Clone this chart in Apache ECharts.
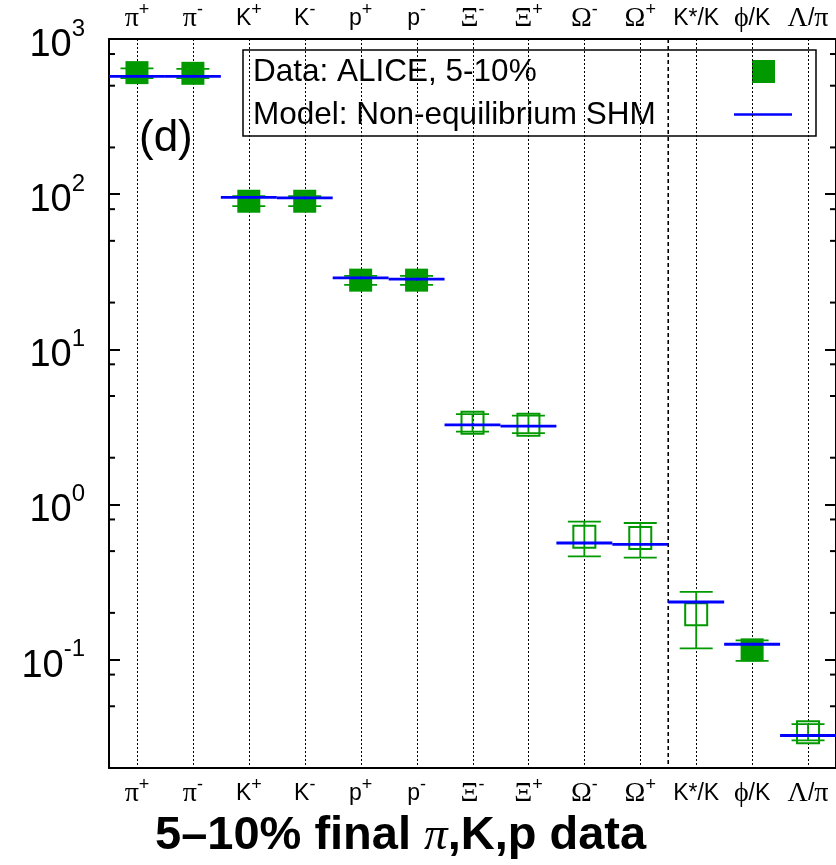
<!DOCTYPE html>
<html>
<head>
<meta charset="utf-8">
<script src="https://cdn.jsdelivr.net/npm/echarts@6/dist/echarts.min.js"></script>
<style>
  html, body { margin: 0; padding: 0; background: #fff; }
  #chart { width: 836px; height: 865px; }
</style>
</head>
<body>
<div id="chart"></div>
<script>
// Particle species / ratios along the x axis
const categories = ['π+', 'π-', 'K+', 'K-', 'p+', 'p-', 'Ξ-', 'Ξ+', 'Ω-', 'Ω+', 'K*/K', 'ϕ/K', 'Λ/π'];
// Rich-text markup for each tick label (Greek letters in serif, charges as superscripts)
const categoryMarkup = [
  '{g|π}{s|+}', '{g|π}{s|-}', '{n|K}{s|+}', '{n|K}{s|-}', '{n|p}{s|+}', '{n|p}{s|-}',
  '{g|Ξ}{s|-}', '{g|Ξ}{s|+}', '{g|Ω}{s|-}', '{g|Ω}{s|+}', '{n|K*/K}', '{g|ϕ}{n|/K}', '{g|Λ}{n|/}{g|π}'
];
// ALICE 5-10% yields / ratios with error limits
const dataValue = [607, 601, 90, 90, 27.9, 27.9, 3.36, 3.26, 0.619, 0.607, 0.196, 0.1155, 0.034];
const dataLow   = [560, 560, 83.6, 83.6, 26.0, 26.0, 2.95, 2.88, 0.463, 0.454, 0.118, 0.098, 0.0301];
const dataHigh  = [646, 642, 97, 97, 29.7, 29.7, 3.82, 3.74, 0.774, 0.759, 0.273, 0.133, 0.0383];
// 1 = filled marker, 0 = open marker
const dataFilled = [1, 1, 1, 1, 1, 1, 0, 0, 0, 0, 0, 1, 0];
// Non-equilibrium SHM fit
const modelValue = [574, 574, 95.4, 94.7, 28.9, 28.3, 3.26, 3.20, 0.564, 0.553, 0.235, 0.1255, 0.0324];
// Minor tick values on the log axis
const minorTickValues = [0.05, 0.08, 0.2, 0.5, 0.8, 2, 5, 8, 20, 50, 80, 200, 500, 800];
// Boundary between yields and ratios
const separatorPos = [10.5];

const GREEN = '#009900';
const BLUE = '#0000ff';
const SANS = "'Liberation Sans', Arial, Helvetica, sans-serif";
const SERIF = "'Liberation Serif', 'DejaVu Serif', serif";

const xLabelRich = {
  n: { fontFamily: SANS, fontSize: 23, lineHeight: 35, color: '#000' },
  g: { fontFamily: SERIF, fontSize: 28, lineHeight: 35, color: '#000' },
  s: { fontFamily: SANS, fontSize: 18, lineHeight: 18, padding: [0, 0, 17, 0], color: '#000' }
};

function xLabel(value) {
  const i = categories.indexOf(value);
  return i >= 0 ? categoryMarkup[i] : value;
}

function yLabel(v) {
  const e = Math.round(Math.log10(v));
  if (Math.abs(Math.log10(v) - e) > 1e-6) return '';
  return '{b|10}{s|' + e + '}';
}

const chart = echarts.init(document.getElementById('chart'), null, { renderer: 'canvas' });

const option = {
  backgroundColor: '#fff',
  animation: false,
  title: {
    text: '{a|5–10% final }{p|π}{a|,K,p data}',
    left: 150,
    top: 808,
    textStyle: {
      rich: {
        a: { fontFamily: SANS, fontWeight: 'bold', fontSize: 47, color: '#000' },
        p: { fontFamily: SERIF, fontStyle: 'italic', fontWeight: 'normal', fontSize: 47, color: '#000' }
      }
    }
  },
  grid: { left: 109, top: 39, right: -3, bottom: 97 },
  xAxis: [
    { type: 'value', min: 0.5, max: 13.5, show: false },
    {
      type: 'category', position: 'bottom', data: categories, boundaryGap: true,
      axisLine: { lineStyle: { color: '#000', width: 2 } },
      axisTick: { alignWithLabel: true, inside: true, length: 11, lineStyle: { color: '#000', width: 2 } },
      axisLabel: { interval: 0, margin: 8, formatter: xLabel, rich: xLabelRich },
      splitLine: { show: false }
    },
    {
      type: 'category', position: 'top', data: categories, boundaryGap: true,
      axisLine: { lineStyle: { color: '#000', width: 2 } },
      axisTick: { alignWithLabel: true, inside: true, length: 11, lineStyle: { color: '#000', width: 2 } },
      axisLabel: { interval: 0, margin: 3, formatter: xLabel, rich: xLabelRich },
      splitLine: { show: false }
    }
  ],
  yAxis: [
    {
      type: 'log', logBase: 10, min: 0.02, max: 1000, position: 'left',
      axisLine: { show: true, lineStyle: { color: '#000', width: 2 } },
      axisTick: { show: true, inside: true, length: 11, lineStyle: { color: '#000', width: 2 } },
      axisLabel: {
        margin: 24, formatter: yLabel,
        rich: {
          b: { fontFamily: SANS, fontSize: 38, lineHeight: 38, padding: [13, 0, 0, 0], color: '#000' },
          s: { fontFamily: SANS, fontSize: 24, lineHeight: 24, padding: [0, 0, 20, 0], color: '#000' }
        }
      },
      splitLine: { show: false }
    },
    {
      type: 'log', logBase: 10, min: 0.02, max: 1000, position: 'right',
      axisLine: { show: true, lineStyle: { color: '#000', width: 2 } },
      axisTick: { show: true, inside: true, length: 11, lineStyle: { color: '#000', width: 2 } },
      axisLabel: { show: false },
      splitLine: { show: false }
    }
  ],
  graphic: [
    {
      type: 'text', left: 139, top: 117, z: 20,
      style: { text: '(d)', font: '44px ' + SANS, fill: '#000' }
    },
    {
      type: 'group', z: 30,
      children: [
        { type: 'rect', shape: { x: 243, y: 50, width: 573, height: 86 },
          style: { fill: '#fff', stroke: '#000', lineWidth: 1.5 } },
        { type: 'text', x: 253, y: 72,
          style: { text: 'Data: ALICE, 5-10%', font: '31.5px ' + SANS, fill: '#000', verticalAlign: 'middle' } },
        { type: 'text', x: 253, y: 115,
          style: { text: 'Model: Non-equilibrium SHM', font: '31.5px ' + SANS, fill: '#000', verticalAlign: 'middle' } },
        { type: 'rect', shape: { x: 752, y: 60, width: 23, height: 23 }, style: { fill: GREEN } },
        { type: 'line', shape: { x1: 734, y1: 114.5, x2: 792, y2: 114.5 }, style: { stroke: BLUE, lineWidth: 2.5 } }
      ]
    }
  ],
  series: [
    {
      // dotted guide line at every species
      type: 'custom', name: 'guides', xAxisIndex: 0, yAxisIndex: 0, silent: true, z: 1,
      data: categories.map((c, i) => [i + 1, 1]),
      renderItem(params, api) {
        const cs = params.coordSys;
        const x = Math.round(api.coord([api.value(0), 1])[0]) + 0.5;
        return {
          type: 'line',
          shape: { x1: x, y1: cs.y, x2: x, y2: cs.y + cs.height },
          style: { stroke: '#000', lineWidth: 1, lineDash: [2, 2] }
        };
      }
    },
    {
      // dashed separator between yields and ratios
      type: 'custom', name: 'separator', xAxisIndex: 0, yAxisIndex: 0, silent: true, z: 1,
      data: separatorPos.map(p => [p, 1]),
      renderItem(params, api) {
        const cs = params.coordSys;
        const x = api.coord([api.value(0), 1])[0];
        return {
          type: 'line',
          shape: { x1: x, y1: cs.y, x2: x, y2: cs.y + cs.height },
          style: { stroke: '#000', lineWidth: 1.6, lineDash: [4, 3] }
        };
      }
    },
    {
      // minor ticks on both y axes
      type: 'custom', name: 'minor', xAxisIndex: 0, yAxisIndex: 0, silent: true, z: 5,
      data: minorTickValues.map(v => [1, v]),
      renderItem(params, api) {
        const cs = params.coordSys;
        const y = api.coord([1, api.value(1)])[1];
        return {
          type: 'group',
          children: [
            { type: 'line', shape: { x1: cs.x, y1: y, x2: cs.x + 6, y2: y }, style: { stroke: '#000', lineWidth: 2 } },
            { type: 'line', shape: { x1: cs.x + cs.width - 6, y1: y, x2: cs.x + cs.width, y2: y }, style: { stroke: '#000', lineWidth: 2 } }
          ]
        };
      }
    },
    {
      type: 'custom', name: 'Data: ALICE, 5-10%', xAxisIndex: 0, yAxisIndex: 0, z: 3,
      data: categories.map((c, i) => [i + 1, dataValue[i], dataLow[i], dataHigh[i], dataFilled[i]]),
      renderItem(params, api) {
        const x = api.value(0);
        const c = api.coord([x, api.value(1)]);
        const lo = api.coord([x, api.value(2)]);
        const hi = api.coord([x, api.value(3)]);
        const filled = api.value(4) === 1;
        const cap = 16.5;
        const errStyle = { stroke: GREEN, lineWidth: 1.8 };
        const children = [
          { type: 'line', shape: { x1: c[0], y1: lo[1], x2: c[0], y2: hi[1] }, style: errStyle },
          { type: 'line', shape: { x1: c[0] - cap, y1: lo[1], x2: c[0] + cap, y2: lo[1] }, style: errStyle },
          { type: 'line', shape: { x1: c[0] - cap, y1: hi[1], x2: c[0] + cap, y2: hi[1] }, style: errStyle }
        ];
        if (filled) {
          children.push({ type: 'rect', shape: { x: c[0] - 11.5, y: c[1] - 11.5, width: 23, height: 23 }, style: { fill: GREEN } });
        } else {
          children.push({ type: 'rect', shape: { x: c[0] - 11, y: c[1] - 11, width: 22, height: 22 }, style: { fill: 'none', stroke: GREEN, lineWidth: 2 } });
        }
        return { type: 'group', children };
      }
    },
    {
      type: 'custom', name: 'Model: Non-equilibrium SHM', xAxisIndex: 0, yAxisIndex: 0, z: 4,
      data: categories.map((c, i) => [i + 1, modelValue[i]]),
      renderItem(params, api) {
        const x = api.value(0);
        const a = api.coord([x - 0.5, api.value(1)]);
        const b = api.coord([x + 0.5, api.value(1)]);
        const m = api.coord([x, api.value(1)]);
        return {
          type: 'group',
          children: [
            { type: 'line', shape: { x1: a[0], y1: a[1], x2: b[0], y2: b[1] }, style: { stroke: BLUE, lineWidth: 2.8 } },
            { type: 'line', shape: { x1: m[0], y1: m[1] - 1.5, x2: m[0], y2: m[1] + 1.5 }, style: { stroke: BLUE, lineWidth: 1 } }
          ]
        };
      }
    }
  ]
};

chart.setOption(option);
</script>
</body>
</html>
